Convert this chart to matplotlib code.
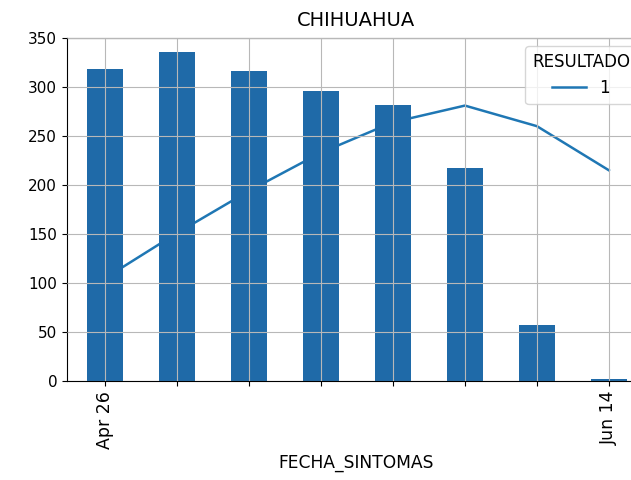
import numpy as np
import matplotlib
matplotlib.use("Agg")
import matplotlib.pyplot as plt

# datos (semanas de FECHA_SINTOMAS)
semanas = ["Apr 26", "May 03", "May 10", "May 17", "May 24", "May 31", "Jun 07", "Jun 14"]
etiquetas = ["Apr 26", "", "", "", "", "", "", "Jun 14"]
casos = [318, 336, 316, 296, 282, 217, 57, 2]
tendencia = [105, 151, 194, 233, 264, 281, 260, 215]

plt.rcParams["font.size"] = 10.6

fig = plt.figure(figsize=(6.31, 4.8), dpi=100)
# el eje sigue mas alla del borde derecho (recorte del original)
ax = fig.add_axes([0.106, 0.206, 0.916, 0.715])

x = np.arange(len(semanas))
ax.plot(x, tendencia, color="#1f77b4", lw=1.8, label="1", zorder=0.9)
ax.bar(x, casos, width=0.5, color="#1f6aa8", zorder=1)

ax.set_xlim(-0.53, len(semanas) - 0.5)
ax.set_ylim(0, 350)
ax.set_yticks(range(0, 351, 50))
ax.set_xticks(x)
ax.set_xticklabels(etiquetas, rotation=90)
ax.tick_params(axis="x", labelsize=12.5)
ax.tick_params(axis="y", labelsize=11)
ax.grid(True, color="#b8b8b8", lw=0.8, zorder=1.5)
ax.set_axisbelow(False)

ax.set_title("CHIHUAHUA", fontsize=14, pad=8.5)
ax.set_xlabel("FECHA_SINTOMAS", fontsize=12.3)
ax.legend(title="RESULTADO", loc="upper right", fontsize=12, title_fontsize=12)

fig.savefig("out.png", dpi=100)
